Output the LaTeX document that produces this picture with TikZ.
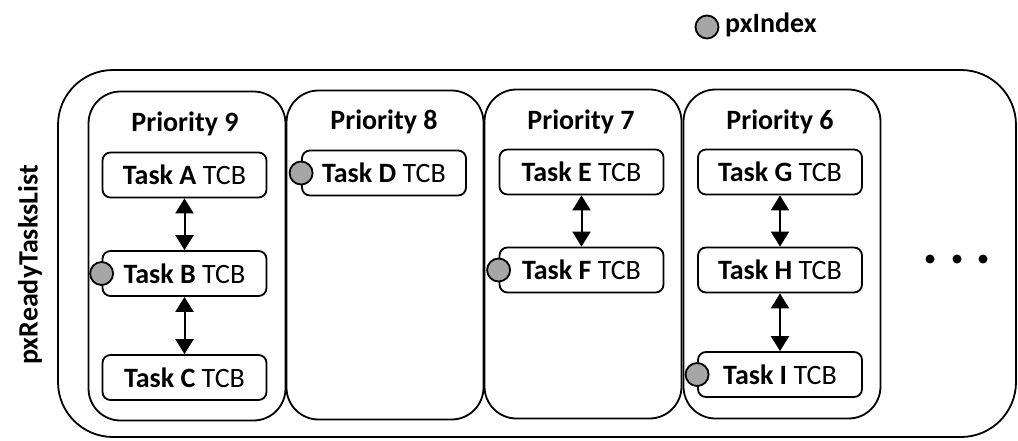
\documentclass[tikz,border=0pt]{standalone}
\usepackage{fontspec}
\setmainfont{Carlito}
\usetikzlibrary{arrows.meta}
\definecolor{ptrfill}{RGB}{166,166,166}
\begin{document}
\begin{tikzpicture}[x=1pt,y=-1pt,line width=1.8pt,
  every node/.style={font=\fontsize{28pt}{32pt}\selectfont},
  outerbox/.style={draw,rounded corners=55pt,minimum width=958pt,minimum height=367pt,inner sep=0pt},
  prio/.style={draw,rounded corners=32pt,minimum width=197pt,minimum height=329pt,inner sep=0pt},
  task/.style={draw,fill=white,rounded corners=8pt,minimum width=164pt,minimum height=45pt,inner sep=0pt},
  ptr/.style={draw,circle,fill=ptrfill,minimum size=23pt,inner sep=0pt},
  dotnode/.style={circle,fill=black,minimum size=9pt,inner sep=0pt},
  link/.style={{Triangle[length=15pt,width=18pt]}-{Triangle[length=15pt,width=18pt]},line width=2pt},
  title/.style={font=\fontsize{28pt}{32pt}\selectfont\bfseries}]
\useasboundingbox (0,0) rectangle (1018,440);
\node[outerbox] (outer) at (537,253.5) {};
\node[title,rotate=90] (lbl) at (30,265) {pxReadyTasksList};
% priority columns
\node[prio] (p9) at (187,256) {};
\node[prio] (p8) at (385,255) {};
\node[prio] (p7) at (583,254) {};
\node[prio] (p6) at (782,254) {};
\node[title] (t9) at (185,124) {Priority 9};
\node[title] (t8) at (384,122) {Priority 8};
\node[title] (t7) at (581,122) {Priority 7};
\node[title] (t6) at (780,122) {Priority 6};
% tasks
\node[task] (ta) at (184.5,175) {\textbf{Task A} TCB};
\node[task] (tb) at (184.5,273.5) {\textbf{Task B} TCB};
\node[task] (tc) at (184.5,377.5) {\textbf{Task C} TCB};
\node[task] (td) at (384,173) {\textbf{Task D} TCB};
\node[task] (te) at (581.5,172) {\textbf{Task E} TCB};
\node[task] (tf) at (581.5,270) {\textbf{Task F} TCB};
\node[task] (tg) at (780,172) {\textbf{Task G} TCB};
\node[task] (th) at (780,270) {\textbf{Task H} TCB};
\node[task] (ti) at (780,374.5) {\textbf{Task I} TCB};
% links
\draw[link] (ta) -- (tb);
\draw[link] (tb) -- (tc);
\draw[link] (te) -- (tf);
\draw[link] (tg) -- (th);
\draw[link] (th) -- (ti);
% index pointers
\node[ptr] (cb) at (tb.west) {};
\node[ptr] (cd) at (td.west) {};
\node[ptr] (cf) at (tf.west) {};
\node[ptr] (ci) at (ti.west) {};
\node[ptr] (cx) at (707,27) {};
\node[title,anchor=west] (px) at (721,25) {pxIndex};
% ellipsis
\node[dotnode] (d1) at (930,259) {};
\node[dotnode] (d2) at (957,259) {};
\node[dotnode] (d3) at (983,259) {};
\end{tikzpicture}
\end{document}
